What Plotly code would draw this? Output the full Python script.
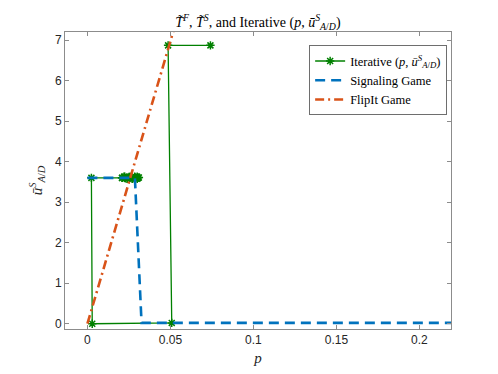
import plotly.graph_objects as go

# Iterative (p, u) sequence
iter_p = [0.0741, 0.0486, 0.0508, 0.0029, 0.0024,
          0.0210, 0.0225, 0.0240, 0.0255, 0.0270, 0.0285, 0.0300, 0.0310,
          0.0300, 0.0280, 0.0260, 0.0240, 0.0220, 0.0208, 0.0230, 0.0250,
          0.0270, 0.0290, 0.0305]
iter_u = [6.87, 6.87, 0.02, 0.00, 3.60,
          3.60, 3.63, 3.58, 3.62, 3.59, 3.63, 3.58, 3.61,
          3.63, 3.59, 3.62, 3.58, 3.63, 3.60, 3.59, 3.62,
          3.58, 3.61, 3.60]

# Signaling game
sig_p = [0.0, 0.0286, 0.0326, 0.22]
sig_u = [3.60, 3.60, 0.02, 0.02]

# FlipIt game
flip_p = [0.0, 0.06]
flip_u = [0.0, 8.37]

serif = "Times New Roman, Liberation Serif, DejaVu Serif, serif"
sans = "Arial, Liberation Sans, sans-serif"

fig = go.Figure()
fig.add_trace(go.Scatter(
    x=iter_p, y=iter_u, mode="lines+markers",
    name="Iterative (<i>p</i>, <i>ū</i><sup><i>S</i></sup><sub><i>A</i>/<i>D</i></sub>)",
    line=dict(color="#008000", width=1.3),
    marker=dict(symbol="asterisk-open", size=7, color="#008000",
                line=dict(color="#008000", width=1.5)),
))
fig.add_trace(go.Scatter(
    x=sig_p, y=sig_u, mode="lines", name="Signaling Game",
    line=dict(color="#0072BD", width=2.6, dash="10px,6px"),
))
fig.add_trace(go.Scatter(
    x=flip_p, y=flip_u, mode="lines", name="FlipIt Game",
    line=dict(color="#D95319", width=2.6, dash="9px,4px,2px,4px"),
))

axis_common = dict(
    showline=True, linecolor="#8c8c8c", linewidth=1, mirror="ticks",
    ticks="inside", ticklen=4, tickcolor="#8c8c8c",
    showgrid=False, zeroline=False, automargin=False,
    tickfont=dict(family=sans, size=12, color="#262626"),
)

# the page body adds an 8px offset, so the figure is a bit smaller
fig.update_layout(
    width=490, height=366,
    paper_bgcolor="white", plot_bgcolor="white",
    margin=dict(l=57, r=47, t=24, b=45),
    title=dict(
        text="<i>T̃</i><sup><i>F</i></sup>, <i>T̃</i><sup><i>S</i></sup>, and Iterative "
             "(<i>p</i>, <i>ū</i><sup><i>S</i></sup><sub><i>A</i>/<i>D</i></sub>)",
        x=0.51, xanchor="center", y=0.962, yanchor="middle",
        font=dict(family=serif, size=14, color="black"),
        automargin=False,
    ),
    xaxis=dict(axis_common, range=[-0.0135, 0.219],
               tickvals=[0, 0.05, 0.1, 0.15, 0.2],
               ticktext=["0", "0.05", "0.1", "0.15", "0.2"],
               title=dict(text="<i>p</i>", font=dict(family=serif, size=15, color="#262626"),
                          standoff=6)),
    yaxis=dict(axis_common, range=[-0.13, 7.2], tickvals=list(range(8)),
               title=dict(text="<i>ū</i><sup><i>S</i></sup><sub><i>A</i>/<i>D</i></sub>",
                          font=dict(family=serif, size=15, color="#262626"),
                          standoff=8)),
    legend=dict(
        x=0.99, y=0.955, xanchor="right", yanchor="top",
        bgcolor="white", bordercolor="#6e6e6e", borderwidth=1,
        font=dict(family=serif, size=12.5, color="black"),
        tracegroupgap=0, itemwidth=30,
    ),
    showlegend=True,
)

fig.write_html("out.html")
